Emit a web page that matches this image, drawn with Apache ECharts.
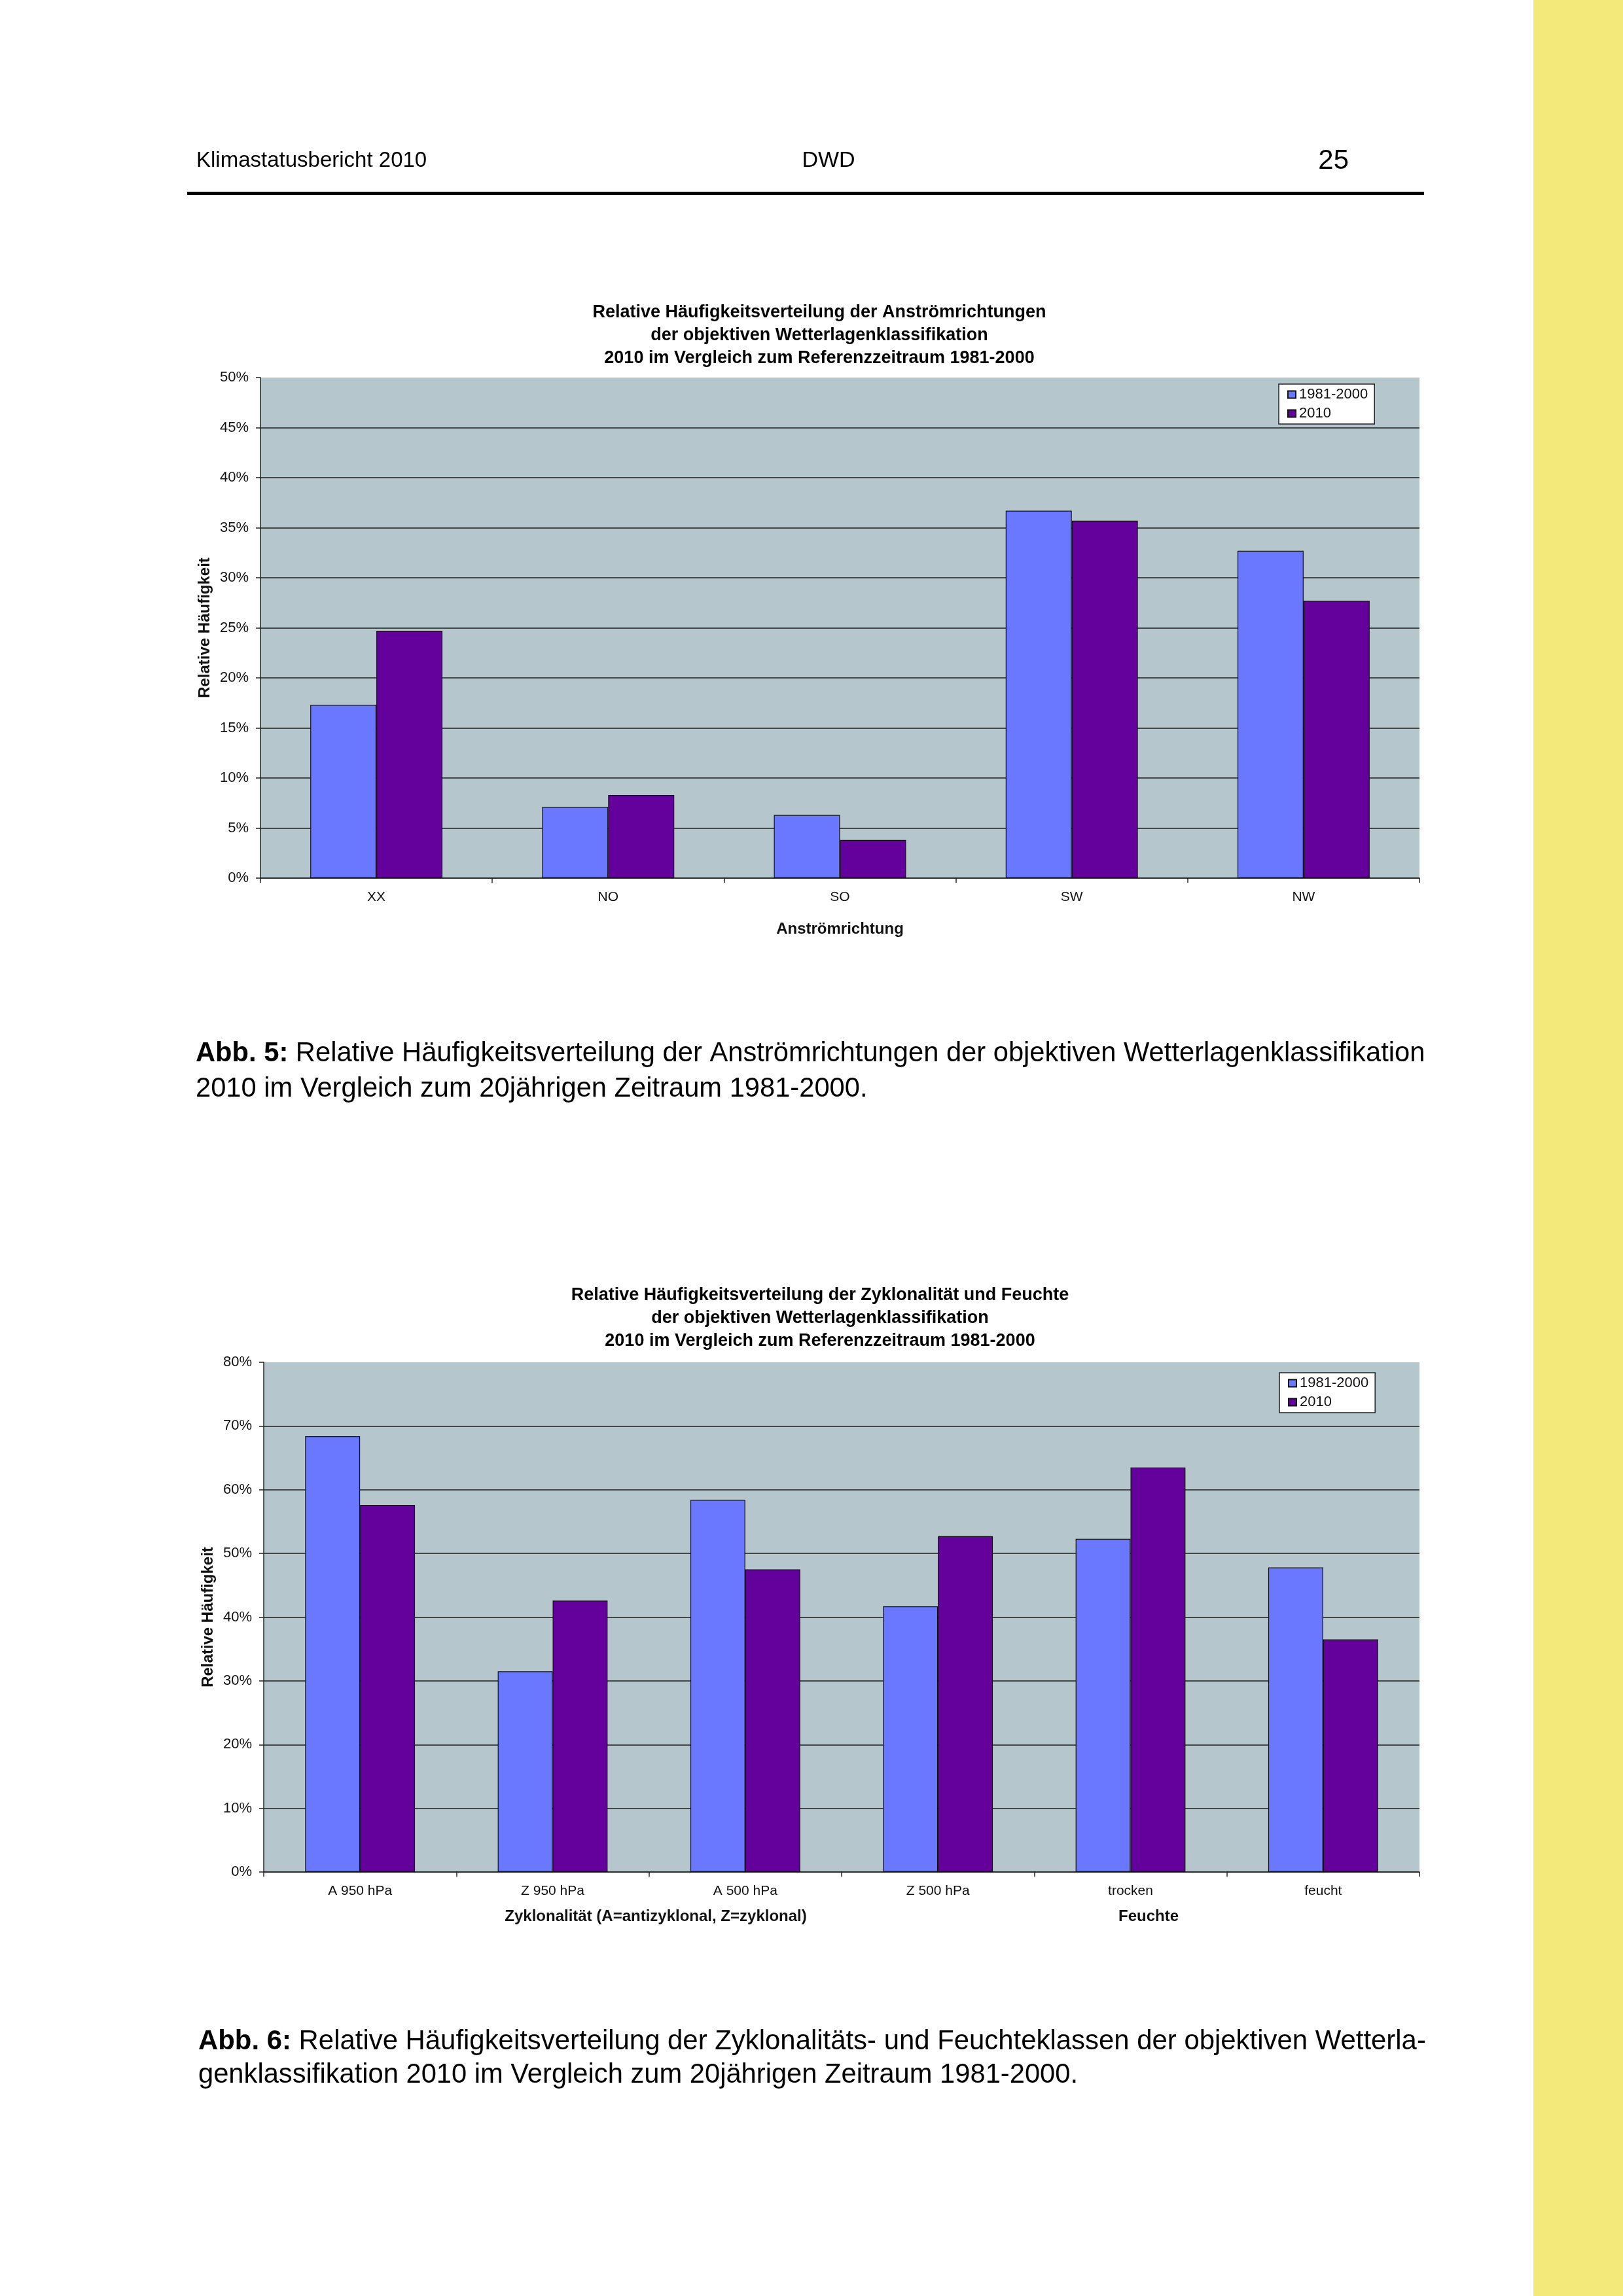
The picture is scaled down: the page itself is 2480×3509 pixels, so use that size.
<!DOCTYPE html>
<html>
<head>
<meta charset="utf-8">
<style>
html,body{margin:0;padding:0;background:#fff;}
#c{width:2480px;height:3509px;}
</style>
<script src="https://cdn.jsdelivr.net/npm/echarts@6/dist/echarts.min.js"></script>
</head>
<body>
<div id="c"></div>
<script>
// ---- data ----
const seriesNames = ['1981-2000', '2010'];
const cats1 = ['XX', 'NO', 'SO', 'SW', 'NW'];
const ref1 = [17.3, 7.1, 6.3, 36.7, 32.7];
const y2010_1 = [24.7, 8.3, 3.8, 35.7, 27.7];
const cats2 = ['A 950 hPa', 'Z 950 hPa', 'A 500 hPa', 'Z 500 hPa', 'trocken', 'feucht'];
const ref2 = [68.4, 31.5, 58.4, 41.7, 52.3, 47.8];
const y2010_2 = [57.6, 42.6, 47.5, 52.7, 63.5, 36.5];
const yTicks1 = {min: 0, max: 50, interval: 5};
const yTicks2 = {min: 0, max: 80, interval: 10};

const FONT = '"Liberation Sans", Arial, sans-serif';
const BLUE = '#6A78FF';
const PURPLE = '#64009C';
const PLOTBG = '#B5C7CC';

function gridColors(n) {
  const a = [];
  for (let i = 0; i < n; i++) a.push(i === n - 1 ? 'rgba(0,0,0,0)' : '#1e1e1e');
  return a;
}

function yAxisCfg(t, gridIndex, gap) {
  const n = Math.round((t.max - t.min) / t.interval) + 1;
  return {
    type: 'value', gridIndex: gridIndex, min: t.min, max: t.max, interval: t.interval,
    name: 'Relative Häufigkeit', nameLocation: 'middle', nameGap: gap, nameRotate: 90,
    nameTextStyle: {fontFamily: FONT, fontSize: 24, fontWeight: 'bold', color: '#111'},
    axisLine: {show: true, lineStyle: {color: '#222', width: 1.5}},
    axisTick: {show: true, length: 7, lineStyle: {color: '#222', width: 1.5}},
    axisLabel: {formatter: '{value}%', fontFamily: FONT, fontSize: 22, color: '#111', margin: 18},
    splitLine: {show: true, lineStyle: {color: gridColors(n), width: 1.5}}
  };
}

function xAxisCfg(cats, gridIndex) {
  return {
    type: 'category', gridIndex: gridIndex, data: cats, boundaryGap: true,
    axisLine: {show: true, lineStyle: {color: '#222', width: 1.5}},
    axisTick: {show: true, interval: 0, alignWithLabel: false, length: 7, lineStyle: {color: '#222', width: 1.5}},
    axisLabel: {interval: 0, fontFamily: FONT, fontSize: 21, color: '#111', margin: 19},
    splitLine: {show: false}
  };
}

function barSeries(name, data, color, idx) {
  return {
    type: 'bar', name: name, data: data, xAxisIndex: idx, yAxisIndex: idx,
    barGap: '0%', barCategoryGap: '43%',
    itemStyle: {color: color, borderColor: '#111', borderWidth: 1.2},
    emphasis: {disabled: true}
  };
}

function legendCfg(left, top) {
  return {
    data: seriesNames, orient: 'vertical', left: left, top: top,
    backgroundColor: '#fff', borderColor: '#222', borderWidth: 1.5, borderRadius: 0,
    padding: [5, 10, 5, 13], itemWidth: 12, itemHeight: 11, itemGap: 7,
    icon: 'rect', selectedMode: false,
    textStyle: {fontFamily: FONT, fontSize: 22, color: '#111', padding: [0, 0, 0, 0]}
  };
}

function txt(text, x, y, size, opts) {
  opts = opts || {};
  return {
    type: 'text', x: x, y: y, silent: true,
    style: Object.assign({
      text: text, fill: '#000',
      font: (opts.bold ? 'bold ' : '') + size + 'px ' + FONT,
      textAlign: opts.align || 'left', textVerticalAlign: 'middle'
    }, opts.style || {})
  };
}

function caption(label, rest, x, y, size) {
  return {
    type: 'text', x: x, y: y, silent: true,
    style: {
      text: '{b|' + label + '}{r|' + rest + '}',
      rich: {
        b: {fontFamily: FONT, fontSize: size, fontWeight: 'bold', fill: '#000'},
        r: {fontFamily: FONT, fontSize: size, fill: '#000'}
      },
      textVerticalAlign: 'middle'
    }
  };
}

const chart = echarts.init(document.getElementById('c'), null, {renderer: 'canvas'});
chart.setOption({
  animation: false,
  backgroundColor: '#fff',
  grid: [
    {left: 398, top: 577, width: 1771, height: 765, show: true, backgroundColor: PLOTBG, borderWidth: 0},
    {left: 403, top: 2082, width: 1766, height: 779, show: true, backgroundColor: PLOTBG, borderWidth: 0}
  ],
  xAxis: [
    Object.assign(xAxisCfg(cats1, 0), {
      name: 'Anströmrichtung', nameLocation: 'middle', nameGap: 66,
      nameTextStyle: {fontFamily: FONT, fontSize: 24, fontWeight: 'bold', color: '#111'}
    }),
    xAxisCfg(cats2, 1)
  ],
  yAxis: [yAxisCfg(yTicks1, 0, 66), yAxisCfg(yTicks2, 1, 68)],
  legend: [legendCfg(1954, 587), legendCfg(1955, 2098)],
  series: [
    barSeries(seriesNames[0], ref1, BLUE, 0),
    barSeries(seriesNames[1], y2010_1, PURPLE, 0),
    barSeries(seriesNames[0], ref2, BLUE, 1),
    barSeries(seriesNames[1], y2010_2, PURPLE, 1)
  ],
  graphic: [
    {type: 'rect', silent: true, shape: {x: 2343, y: 0, width: 137, height: 3509}, style: {fill: '#F3E97B'}},
    txt('Klimastatusbericht 2010', 300, 246, 33),
    txt('DWD', 1266, 246, 34, {align: 'center'}),
    txt('25', 2061, 246, 42, {align: 'right'}),
    {type: 'rect', silent: true, shape: {x: 286, y: 293, width: 1890, height: 5}, style: {fill: '#000'}},
    {
      type: 'text', x: 1252, y: 460, silent: true,
      style: {
        text: 'Relative Häufigkeitsverteilung der Anströmrichtungen\nder objektiven Wetterlagenklassifikation\n2010 im Vergleich zum Referenzzeitraum 1981-2000',
        font: 'bold 27px ' + FONT, lineHeight: 35, fill: '#000', textAlign: 'center', textVerticalAlign: 'top'
      }
    },
    {
      type: 'text', x: 1253, y: 1962, silent: true,
      style: {
        text: 'Relative Häufigkeitsverteilung der Zyklonalität und Feuchte\nder objektiven Wetterlagenklassifikation\n2010 im Vergleich zum Referenzzeitraum 1981-2000',
        font: 'bold 27px ' + FONT, lineHeight: 35, fill: '#000', textAlign: 'center', textVerticalAlign: 'top'
      }
    },
    txt('Zyklonalität (A=antizyklonal, Z=zyklonal)', 1002, 2929, 24, {bold: true, align: 'center', style: {fill: '#111'}}),
    txt('Feuchte', 1755, 2929, 24, {bold: true, align: 'center', style: {fill: '#111'}}),
    caption('Abb. 5:', ' Relative Häufigkeitsverteilung der Anströmrichtungen der objektiven Wetterlagenklassifikation', 299, 1611, 41.7),
    txt('2010 im Vergleich zum 20jährigen Zeitraum 1981-2000.', 299, 1665, 41.7),
    caption('Abb. 6:', ' Relative Häufigkeitsverteilung der Zyklonalitäts- und Feuchteklassen der objektiven Wetterla-', 303, 3120, 41.9),
    txt('genklassifikation 2010 im Vergleich zum 20jährigen Zeitraum 1981-2000.', 303, 3172, 41.7)
  ]
});
</script>
</body>
</html>
